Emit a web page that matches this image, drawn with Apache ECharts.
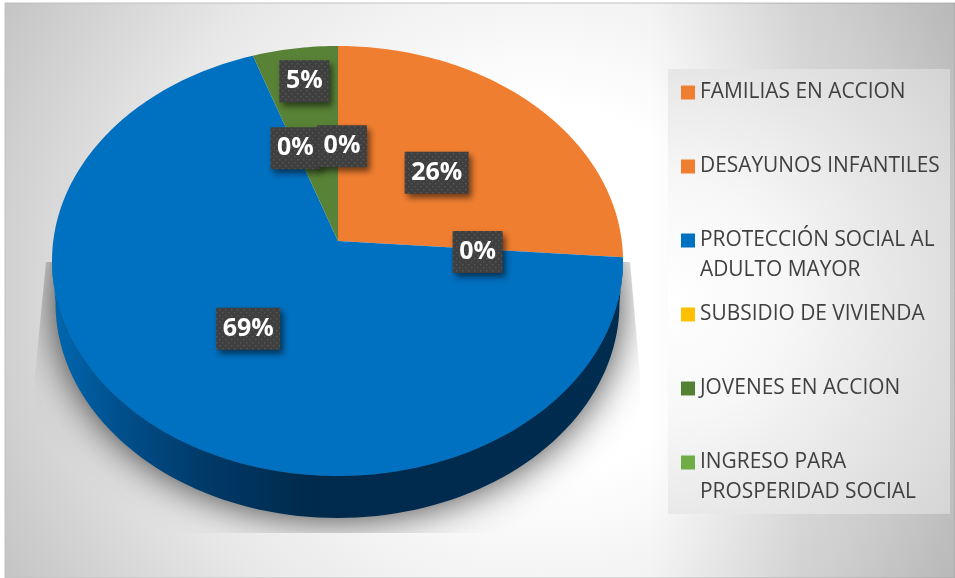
<!DOCTYPE html>
<html><head><meta charset="utf-8">
<style>html,body{margin:0;padding:0;background:#fff}#c{width:955px;height:578px}</style>
<script src="https://cdn.jsdelivr.net/npm/echarts@6/dist/echarts.min.js"></script>
</head><body><div id="c"></div>
<script>
const categories = ['FAMILIAS EN ACCION','DESAYUNOS INFANTILES','PROTECCIÓN SOCIAL AL\nADULTO MAYOR','SUBSIDIO DE VIVIENDA','JOVENES EN ACCION','INGRESO PARA\nPROSPERIDAD SOCIAL'];
const percents = [26.2, 0, 68.5, 0, 5.3, 0];
const colors = ['#F07E30','#F07E30','#0070C0','#FFC000','#588236','#70AD47'];
const legendSwatches = ['#F07E30','#F07E30','#0070C0','#FFC000','#548235','#70AD47'];
// label distance along each slice's middle ray, plus a small nudge (layout, not data)
const labelFractions = [0.50, 0.49, 0.48, 0.50, 0.83, 0.486];
const labelNudges = [[1,0],[0,3],[0,0],[0,0],[2,0],[4,0]];

const TOP = {cx:337.5, cy:261, rx:285.5, ry:215};
const BOTTOM = {cx:337.5, cy:303, rx:282, ry:215};
const APEX = {x:338, y:241};
const TOTAL = percents.reduce((a,b)=>a+b,0);

function rim(theta){
  const dx=Math.sin(theta), dy=-Math.cos(theta);
  const u=(APEX.x-TOP.cx)/TOP.rx, v=(APEX.y-TOP.cy)/TOP.ry;
  const b=u*dx+v*dy, c=u*u+v*v-1;
  const s=-b+Math.sqrt(b*b-c);
  return [APEX.x+s*dx*TOP.rx, APEX.y+s*dy*TOP.ry];
}
function ell(e,t){return [e.cx+e.rx*Math.sin(t), e.cy-e.ry*Math.cos(t)];}
const deg=Math.PI/180;

function dotPattern(){
  const c=document.createElement('canvas'); c.width=6;c.height=6;
  const g=c.getContext('2d'); g.fillStyle='#3f3f3f'; g.fillRect(0,0,6,6);
  g.fillStyle='#555555'; g.fillRect(0,0,1.5,1.5); g.fillRect(3,3,1.5,1.5);
  return c;
}
const pat=dotPattern();

function makeRender(idx){
  return function(params,api){
    const val=api.value(0);
    let start=0; for(let i=0;i<idx;i++) start+=percents[i];
    const t0=start/TOTAL*2*Math.PI, t1=(start+val)/TOTAL*2*Math.PI;
    const children=[];
    if(idx===2){
      const shadowPts=[], wall=[];
      for(let a=-90;a<=270;a+=3){shadowPts.push(ell({cx:337.5,cy:303,rx:281,ry:214},a*deg));}
      children.push({type:'polygon',shape:{points:shadowPts},z2:1,
        style:{fill:'#333',shadowBlur:40,shadowColor:'rgba(0,0,0,0.8)'},
        clipPath:{type:'polygon',shape:{points:[[46,262],[35,375],[35,533],[640,533],[640,375],[630,262]]}}});
      for(let a=90;a<=270;a+=2) wall.push(ell(TOP,a*deg));
      for(let a=270;a>=90;a-=2) wall.push(ell(BOTTOM,a*deg));
      children.push({type:'polygon',shape:{points:wall},z2:2,
        style:{fill:new echarts.graphic.LinearGradient(52,0,623,0,[
          {offset:0,color:'#0068b0'},{offset:0.12,color:'#004f8c'},{offset:0.27,color:'#003a68'},
          {offset:0.45,color:'#002a4c'},{offset:1,color:'#002c50'}],true)}});
    }
    if(val>0){
      const pts=[[APEX.x,APEX.y]];
      const n=Math.max(2,Math.ceil((t1-t0)/deg));
      for(let i=0;i<=n;i++) pts.push(rim(t0+(t1-t0)*i/n));
      children.push({type:'polygon',shape:{points:pts},z2:3,style:{fill:colors[idx]}});
    }
    const mid=(t0+t1)/2, r=rim(mid), f=labelFractions[idx], nudge=labelNudges[idx];
    const lx=APEX.x+(r[0]-APEX.x)*f+nudge[0], ly=APEX.y+(r[1]-APEX.y)*f+nudge[1];
    const txt=Math.round(val/TOTAL*100)+'%', w=22+14*txt.length, h=42;
    children.push({type:'rect',shape:{x:lx-w/2,y:ly-h/2,width:w,height:h},z2:20+idx*2,
      style:{fill:{image:pat,repeat:'repeat'},shadowBlur:6,shadowOffsetX:3,shadowOffsetY:4,shadowColor:'rgba(0,0,0,0.55)'}});
    children.push({type:'text',z2:21+idx*2,x:lx,y:ly,
      style:{text:txt,fill:'#fff',font:'bold 25px "Open Sans"',align:'center',verticalAlign:'middle'}});
    return {type:'group',children};
  };
}

const legendY=[92.5,166.5,240.5,314.5,388.5,462.5];
const chart=echarts.init(document.getElementById('c'),null,{renderer:'canvas'});
const extraLines=[];
categories.forEach((c,i)=>{
  const parts=c.split('\n');
  if(parts[1]) extraLines.push({type:'text',x:700,y:legendY[i]+29.5,z:5,
    style:{text:parts[1],fill:'#404040',font:'20.9px "Open Sans"',verticalAlign:'middle'}});
});
chart.setOption({
  animation:false,
  color:legendSwatches,
  legend:categories.map((c,i)=>({
    data:[c],left:681,top:legendY[i]-15,padding:0,itemWidth:14,itemHeight:14,itemGap:0,
    icon:'rect',selectedMode:false,
    formatter:n=>n.split('\n')[0],
    textStyle:{color:'#404040',fontFamily:'Open Sans',fontSize:20.9,lineHeight:30,padding:[0,0,0,0]}
  })),
  graphic:[
    {type:'rect',z:-10,shape:{x:5,y:3,width:950,height:575},
      style:{fill:new echarts.graphic.RadialGradient(540,290,620,[
        {offset:0,color:'#ffffff'},{offset:0.3,color:'#ffffff'},{offset:0.65,color:'#e8e8e8'},{offset:1,color:'#c2c2c2'}],true),
        stroke:'#c0c0c0',lineWidth:1}},
    {type:'rect',z:-9.5,shape:{x:5,y:3,width:950,height:575},
      style:{fill:new echarts.graphic.LinearGradient(650,0,955,0,[
        {offset:0,color:'rgba(0,0,0,0)'},{offset:0.5,color:'rgba(0,0,0,0.1)'},{offset:1,color:'rgba(0,0,0,0.14)'}],true)}},
    {type:'rect',z:-9,shape:{x:668,y:69,width:282,height:445},
      style:{fill:new echarts.graphic.RadialGradient(668,300,400,[
        {offset:0,color:'#ffffff'},{offset:0.3,color:'#f7f7f7'},{offset:0.6,color:'#e5e5e5'},{offset:0.8,color:'#dadada'},{offset:1,color:'#cdcdcd'}],true)}},
    ...extraLines
  ],
  series:categories.map((c,i)=>({
    type:'custom',name:c,coordinateSystem:'none',silent:true,
    itemStyle:{color:legendSwatches[i]},
    data:[[percents[i]]],
    renderItem:makeRender(i)
  }))
});
</script></body></html>
